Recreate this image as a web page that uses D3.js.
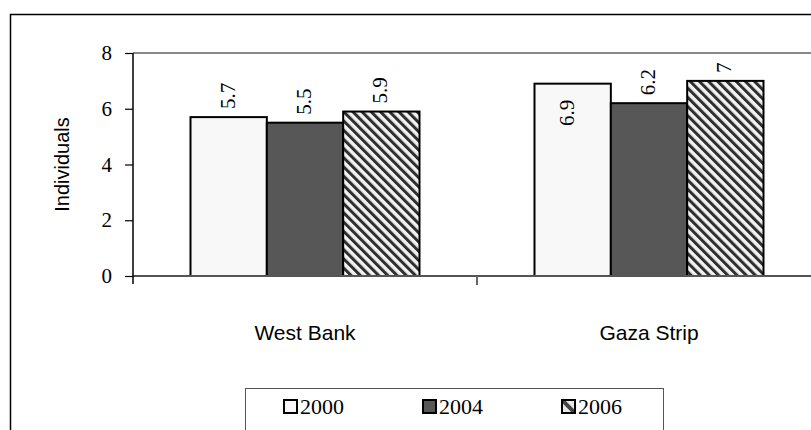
<!DOCTYPE html>
<html>
<head>
<meta charset="utf-8">
<script src="https://cdn.jsdelivr.net/npm/d3@7"></script>
<style>
  html, body { margin: 0; padding: 0; background: #fff; }
  svg { display: block; }
  .serif { font-family: "Liberation Serif", "Times New Roman", serif; }
  .sans { font-family: "Liberation Sans", Arial, sans-serif; }
</style>
</head>
<body>
<svg id="chart" width="811" height="430"></svg>
<script>
// Average household size by region and survey year
const regions = ["West Bank", "Gaza Strip"];
const years = ["2000", "2004", "2006"];
const values2000 = [5.7, 6.9];
const values2004 = [5.5, 6.2];
const values2006 = [5.9, 7.0];
const valueLabels2000 = ["5.7", "6.9"];
const valueLabels2004 = ["5.5", "6.2"];
const valueLabels2006 = ["5.9", "7"];
const yTicks = [0, 2, 4, 6, 8];
const yTitle = "Individuals";

const seriesValues = [values2000, values2004, values2006];
const seriesLabels = [valueLabels2000, valueLabels2004, valueLabels2006];

const rows = [];
regions.forEach((r, ri) => {
  years.forEach((y, yi) => {
    rows.push({ region: r, year: y, value: seriesValues[yi][ri], label: seriesLabels[yi][ri] });
  });
});

const svg = d3.select("#chart");
const defs = svg.append("defs");

// diagonal stripe fill for the 2006 series (running top-left to bottom-right)
const pat = defs.append("pattern")
  .attr("id", "stripes")
  .attr("patternUnits", "userSpaceOnUse")
  .attr("width", 6.5).attr("height", 6.5)
  .attr("patternTransform", "rotate(-45)");
pat.append("rect").attr("width", 6.5).attr("height", 6.5).attr("fill", "#f2f2f2");
pat.append("rect").attr("x", 0).attr("width", 3).attr("height", 6.5).attr("fill", "#2e2e2e");

// single-stripe swatch for the legend
const patL = defs.append("pattern")
  .attr("id", "stripesLegend")
  .attr("patternUnits", "objectBoundingBox")
  .attr("width", 1).attr("height", 1);
patL.append("rect").attr("width", 13).attr("height", 13).attr("fill", "#e8e8e8");
patL.append("path").attr("d", "M0,0L13,13").attr("stroke", "#444").attr("stroke-width", 4);

const fills = { "2000": "#f8f8f8", "2004": "#575757", "2006": "url(#stripes)" };
const legendFills = { "2000": "#f8f8f8", "2004": "#575757", "2006": "url(#stripesLegend)" };

const plot = { left: 133, top: 53, bottom: 276, right: 821 };

// outer frame
svg.append("rect")
  .attr("x", 10.5).attr("y", 14.5)
  .attr("width", 820).attr("height", 440)
  .attr("fill", "none").attr("stroke", "#000").attr("stroke-width", 1.5);

const x0 = d3.scaleBand().domain(regions).range([plot.left, plot.right]).padding(0);
const groupPad = 57.5;
const x1 = d3.scaleBand().domain(years).range([groupPad, x0.bandwidth() - groupPad]).padding(0);
const y = d3.scaleLinear().domain([0, 8]).range([plot.bottom, plot.top]);

// top border of the plot area
svg.append("line")
  .attr("x1", plot.left).attr("x2", 811)
  .attr("y1", y(8)).attr("y2", y(8))
  .attr("stroke", "#888").attr("stroke-width", 2);

// bars
svg.append("g").selectAll("rect")
  .data(rows)
  .join("rect")
  .attr("x", d => x0(d.region) + x1(d.year))
  .attr("y", d => y(d.value))
  .attr("width", x1.bandwidth())
  .attr("height", d => y(0) - y(d.value))
  .attr("fill", d => fills[d.year])
  .attr("stroke", "#000")
  .attr("stroke-width", 2);

// x axis
const xAxis = svg.append("g")
  .attr("transform", `translate(0,${plot.bottom})`)
  .call(d3.axisBottom(x0).tickSize(0).tickFormat(""));
xAxis.select(".domain").attr("stroke", "#555").attr("stroke-width", 2).attr("d", `M${plot.left},0H811`);
// category separator between the two regions
svg.append("line")
  .attr("x1", x0("Gaza Strip")).attr("x2", x0("Gaza Strip"))
  .attr("y1", plot.bottom).attr("y2", plot.bottom + 9)
  .attr("stroke", "#666").attr("stroke-width", 2);

svg.append("g").selectAll("text")
  .data(regions)
  .join("text")
  .attr("class", "sans")
  .attr("x", d => x0(d) + x0.bandwidth() / 2)
  .attr("y", 334)
  .attr("text-anchor", "middle")
  .attr("dominant-baseline", "middle")
  .style("font-size", "21px")
  .text(d => d);

// y axis
const yAxis = svg.append("g")
  .attr("transform", `translate(${plot.left},0)`)
  .call(d3.axisLeft(y).tickValues(yTicks).tickSize(8).tickSizeOuter(0).tickPadding(13));
yAxis.attr("font-family", null).attr("font-size", null);
yAxis.select(".domain").attr("stroke", "#000").attr("stroke-width", 1.5)
  .attr("d", `M0,${plot.top}V${plot.bottom + 8}`);
yAxis.selectAll(".tick line").attr("stroke", "#000").attr("stroke-width", 1.2);
yAxis.selectAll(".tick text")
  .attr("class", "serif")
  .style("font-size", "21px")
  .attr("fill", "#000");

svg.append("text")
  .attr("class", "sans")
  .attr("transform", `translate(69,${(plot.top + plot.bottom) / 2}) rotate(-90)`)
  .attr("text-anchor", "middle")
  .style("font-size", "20px")
  .text(yTitle);

// value labels, rotated; one sits just inside its bar where the top is crowded
const insideLabels = [["Gaza Strip", "2000"]];
const isInside = d => insideLabels.some(([r, yr]) => r === d.region && yr === d.year);

svg.append("g").selectAll("text")
  .data(rows)
  .join("text")
  .attr("class", "serif")
  .attr("transform", d => {
    const cx = x0(d.region) + x1(d.year) + x1.bandwidth() / 2;
    return isInside(d)
      ? `translate(${cx + 1},${y(d.value) + 16}) rotate(-90)`
      : `translate(${cx + 6},${y(d.value) - 8}) rotate(-90)`;
  })
  .attr("text-anchor", d => isInside(d) ? "end" : "start")
  .style("font-size", "21px")
  .text(d => d.label);

// legend
const legend = svg.append("g");
legend.append("rect")
  .attr("x", 245.5).attr("y", 388.5)
  .attr("width", 418).attr("height", 60)
  .attr("fill", "#fff").attr("stroke", "#555").attr("stroke-width", 1);
const legendX = [284, 423, 562];
years.forEach((yr, i) => {
  legend.append("rect")
    .attr("x", legendX[i]).attr("y", 400)
    .attr("width", 13).attr("height", 13)
    .attr("fill", legendFills[yr]).attr("stroke", "#000").attr("stroke-width", 2);
  legend.append("text")
    .attr("class", "serif")
    .attr("x", legendX[i] + 16).attr("y", 414)
    .style("font-size", "22px")
    .text(yr);
});
</script>
</body>
</html>
